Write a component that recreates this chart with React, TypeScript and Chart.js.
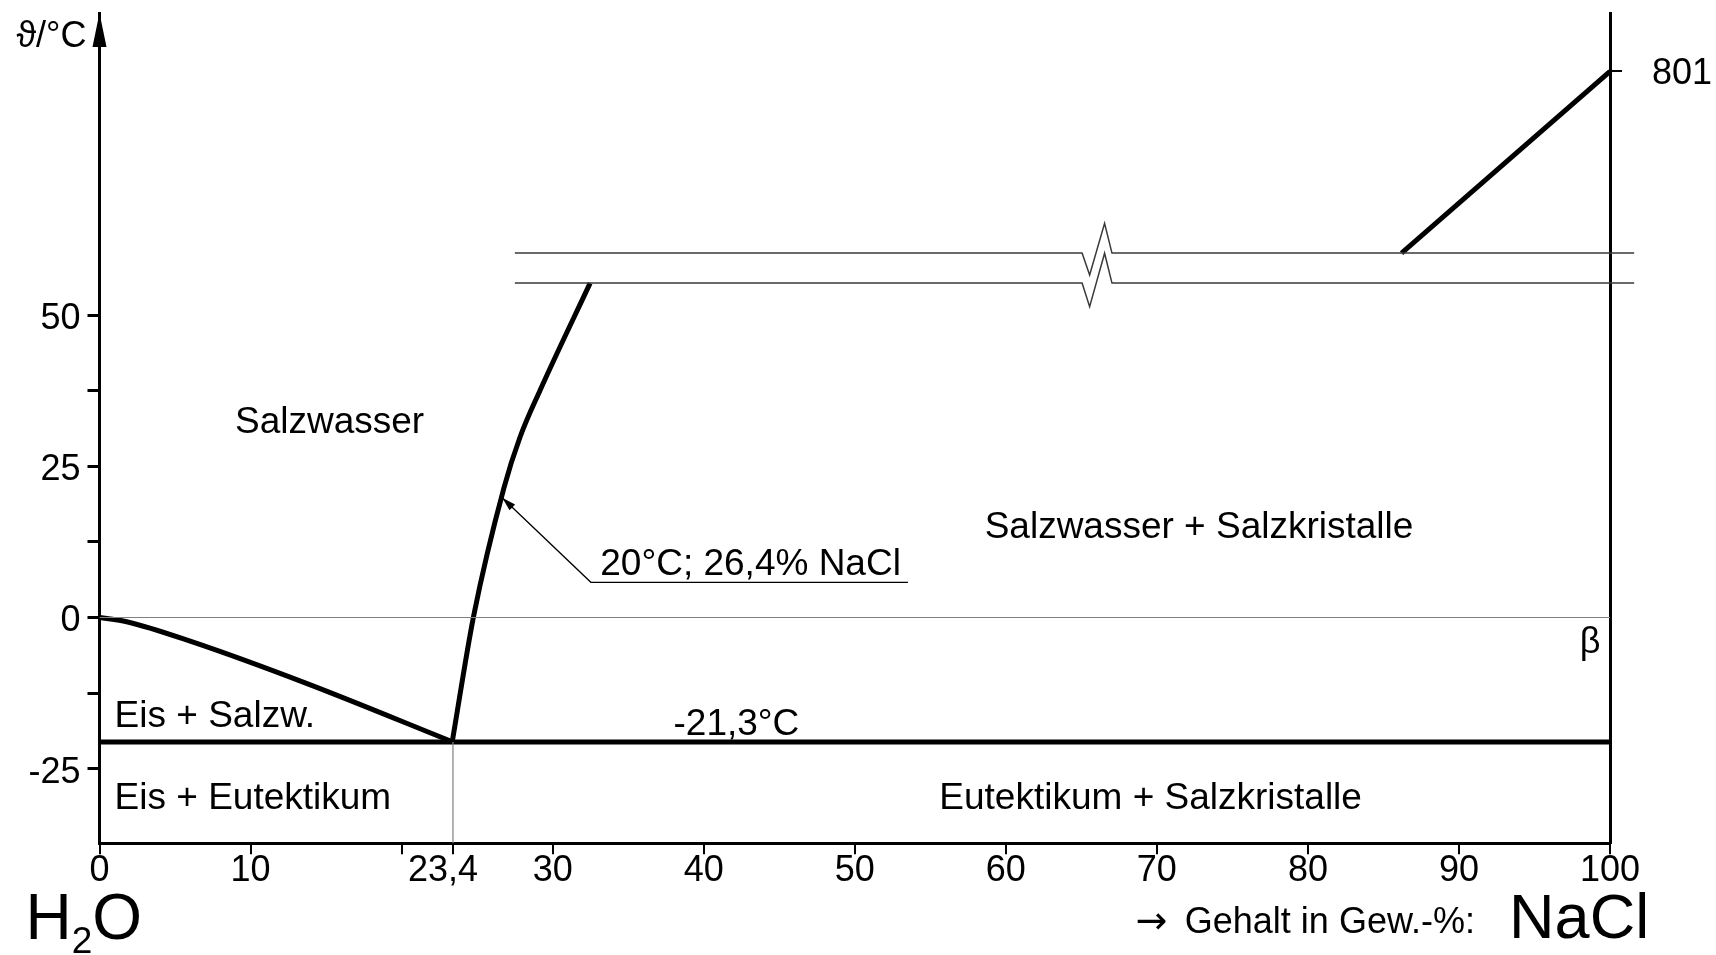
import React, { useEffect, useRef } from "react";
import { Chart, registerables } from "chart.js";

Chart.register(...registerables);

const FONT = '"Liberation Sans", Arial, Helvetica, sans-serif';

// ---- axes ----
const xMin = 0;
const xMax = 100;
const yMin = -37.35;
const yMax = 100;

const xTickValues = [0, 10, 20, 23.4, 30, 40, 50, 60, 70, 80, 90, 100];
const xTickLabels = ["0", "10", "", "23,4  ", "30", "40", "50", "60", "70", "80", "90", "100"];
const yTickValues = [-25, -12.5, 0, 12.5, 25, 37.5, 50];
const yTickLabels = ["-25", "", "0", "", "25", "", "50"];
const meltTickValues = [90.33];
const meltTickLabels = ["801"];

// ---- curves ----
const freezeX = [0, 1.8, 6.1, 13.7, 23.4];
const freezeY = [0, -0.7, -4.0, -10.9, -20.6];

const solubX = [23.35, 24.76, 26.78, 27.85, 29.17, 32.48];
const solubY = [-20.6, 0.13, 21.5, 29.9, 37.6, 55.32];

const eutecticX = [0, 100];
const eutecticY = [-20.6, -20.6];

const zeroLineX = [0, 100];
const zeroLineY = [0, 0];

const eutecticDropX = [23.4, 23.4];
const eutecticDropY = [-20.6, -37.35];

const breakX = [27.5, 65.05, 65.55, 66.54, 67.03, 101.6];
const breakUpperY = [60.28, 60.28, 56.66, 65.21, 60.28, 60.28];
const breakLowerY = [55.32, 55.32, 51.41, 60.25, 55.32, 55.32];

const meltX = [86.2, 100];
const meltY = [60.28, 90.33];

const leaderX = [53.52, 32.53, 26.66];
const leaderY = [5.82, 5.82, 19.8];

// ---- texts ----
const regionTexts = [
  "Salzwasser",
  "Salzwasser + Salzkristalle",
  "Eis + Salzw.",
  "Eis + Eutektikum",
  "Eutektikum + Salzkristalle",
  "-21,3°C",
  "20°C; 26,4% NaCl",
];
const regionTextX = [8.97, 58.6, 1.0, 1.0, 55.6, 38.0, 33.15];
const regionTextY = [30.5, 13.1, -18.1, -31.6, -31.6, -19.45, 7.03];

const pts = (xs: number[], ys: number[]) => xs.map((x, i) => ({ x, y: ys[i] }));

const lineDs = (data: any, width: number, color: string, extra: any = {}) => ({
  data,
  showLine: true,
  borderColor: color,
  backgroundColor: color,
  borderWidth: width,
  pointRadius: 0,
  pointHoverRadius: 0,
  fill: false,
  ...extra,
});

const overlayPlugin = {
  id: "overlay",
  afterDraw(chart: any) {
    const { ctx, chartArea } = chart;
    const xs = chart.scales.x;
    const ys = chart.scales.y;
    const px = (v: number) => xs.getPixelForValue(v);
    const py = (v: number) => ys.getPixelForValue(v);
    ctx.save();
    ctx.fillStyle = "#000";
    ctx.strokeStyle = "#000";

    // y-axis arrow head
    const ax = px(0);
    const ay = py(yMax);
    ctx.beginPath();
    ctx.moveTo(ax, ay);
    ctx.lineTo(ax - 7, ay + 34);
    ctx.lineTo(ax + 7, ay + 34);
    ctx.closePath();
    ctx.fill();

    // axis title
    ctx.font = `36px ${FONT}`;
    ctx.textAlign = "right";
    ctx.textBaseline = "alphabetic";
    ctx.fillText("ϑ/°C", chartArea.left - 13, chartArea.top + 34);

    // region texts
    ctx.font = `37px ${FONT}`;
    ctx.textAlign = "left";
    regionTexts.forEach((t, i) => {
      ctx.fillText(t, px(regionTextX[i]), py(regionTextY[i]));
    });

    // beta
    ctx.font = `36px ${FONT}`;
    ctx.textAlign = "right";
    ctx.fillText("β", px(99.37), py(-5.87));

    // leader arrow head
    const tx = px(leaderX[2]);
    const ty = py(leaderY[2]);
    const fx = px(leaderX[1]);
    const fy = py(leaderY[1]);
    const ang = Math.atan2(ty - fy, tx - fx);
    const L = 14;
    const W = 4;
    ctx.beginPath();
    ctx.moveTo(tx, ty);
    ctx.lineTo(tx - L * Math.cos(ang) + W * Math.sin(ang), ty - L * Math.sin(ang) - W * Math.cos(ang));
    ctx.lineTo(tx - L * Math.cos(ang) - W * Math.sin(ang), ty - L * Math.sin(ang) + W * Math.cos(ang));
    ctx.closePath();
    ctx.fill();

    // H2O
    const base = chartArea.bottom + 96;
    let hx = px(-4.9);
    ctx.textAlign = "left";
    ctx.font = `64px ${FONT}`;
    ctx.fillText("H", hx, base);
    hx += ctx.measureText("H").width;
    ctx.font = `37px ${FONT}`;
    ctx.fillText("2", hx, base + 14);
    hx += ctx.measureText("2").width;
    ctx.font = `64px ${FONT}`;
    ctx.fillText("O", hx, base);

    // x axis caption
    ctx.font = `38px "DejaVu Sans", ${FONT}`;
    ctx.fillText("→", px(68.58), chartArea.bottom + 90);
    ctx.font = `36px ${FONT}`;
    ctx.fillText("Gehalt in Gew.-%:", px(71.85), chartArea.bottom + 90);
    ctx.font = `63px ${FONT}`;
    ctx.fillText("NaCl", px(93.32), chartArea.bottom + 95);

    ctx.restore();
  },
};

export default function App() {
  const ref = useRef<HTMLCanvasElement | null>(null);

  useEffect(() => {
    document.body.style.margin = "0";
    document.body.style.overflow = "hidden";
    const canvas = ref.current;
    if (!canvas) return;

    const chart = new Chart(canvas, {
      type: "scatter",
      data: {
        datasets: [
          lineDs(pts(zeroLineX, zeroLineY), 1.2, "#808080"),
          lineDs(pts(eutecticDropX, eutecticDropY), 1.2, "#808080"),
          lineDs(pts(breakX, breakUpperY), 1.5, "#3a3a3a", { clip: false }),
          lineDs(pts(breakX, breakLowerY), 1.5, "#3a3a3a", { clip: false }),
          lineDs(pts(eutecticX, eutecticY), 5, "#000"),
          lineDs(pts(freezeX, freezeY), 5, "#000", { cubicInterpolationMode: "monotone" }),
          lineDs(pts(solubX, solubY), 5, "#000", { cubicInterpolationMode: "monotone" }),
          lineDs(pts(meltX, meltY), 5, "#000"),
          lineDs(pts(leaderX, leaderY), 1.3, "#000"),
        ],
      },
      options: {
        responsive: false,
        animation: false,
        devicePixelRatio: 1,
        events: [],
        layout: { padding: { left: 0, right: 0, top: 13, bottom: 51.7 } },
        plugins: { legend: { display: false }, tooltip: { enabled: false } },
        scales: {
          x: {
            type: "linear",
            position: "bottom",
            min: xMin,
            max: xMax,
            border: { display: true, width: 3, color: "#000" },
            grid: { drawOnChartArea: false, drawTicks: true, tickLength: 11, lineWidth: 2, color: "#000" },
            ticks: {
              autoSkip: false,
              maxRotation: 0,
              padding: -5,
              color: "#000",
              font: { family: FONT, size: 36 },
              callback: (v: any) => {
                const i = xTickValues.indexOf(Number(v));
                return i >= 0 ? xTickLabels[i] : "";
              },
            },
            afterBuildTicks: (s: any) => {
              s.ticks = xTickValues.map((v) => ({ value: v }));
            },
            afterFit: (s: any) => {
              s.height = 60;
              s.paddingLeft = 0;
              s.paddingRight = 0;
            },
          },
          y: {
            type: "linear",
            position: "left",
            min: yMin,
            max: yMax,
            border: { display: true, width: 3, color: "#000" },
            grid: { drawOnChartArea: false, drawTicks: true, tickLength: 12, lineWidth: 3, color: "#000" },
            ticks: {
              autoSkip: false,
              padding: 7,
              color: "#000",
              font: { family: FONT, size: 36, lineHeight: "8px" },
              callback: (v: any) => {
                const i = yTickValues.indexOf(Number(v));
                return i >= 0 && yTickLabels[i] ? ["", yTickLabels[i]] : "";
              },
            },
            afterBuildTicks: (s: any) => {
              s.ticks = yTickValues.map((v) => ({ value: v }));
            },
            afterFit: (s: any) => {
              s.width = 99.5;
              s.paddingTop = 0;
              s.paddingBottom = 0;
            },
          },
          y2: {
            type: "linear",
            position: "right",
            min: yMin,
            max: yMax,
            border: { display: true, width: 3, color: "#000" },
            grid: { drawOnChartArea: false, drawTicks: true, tickLength: 12, lineWidth: 2, color: "#000" },
            ticks: {
              autoSkip: false,
              padding: 30,
              color: "#000",
              font: { family: FONT, size: 36, lineHeight: "5px" },
              callback: (v: any) => {
                const i = meltTickValues.indexOf(Number(v));
                return i >= 0 ? ["", meltTickLabels[i]] : "";
              },
            },
            afterBuildTicks: (s: any) => {
              s.ticks = meltTickValues.map((v) => ({ value: v }));
            },
            afterFit: (s: any) => {
              s.width = 106;
              s.paddingTop = 0;
              s.paddingBottom = 0;
            },
          },
        },
      } as any,
      plugins: [overlayPlugin],
    });

    return () => chart.destroy();
  }, []);

  return (
    <div style={{ width: 1716, height: 955, background: "#fff" }}>
      <canvas ref={ref} width={1716} height={955} style={{ display: "block" }} />
    </div>
  );
}
